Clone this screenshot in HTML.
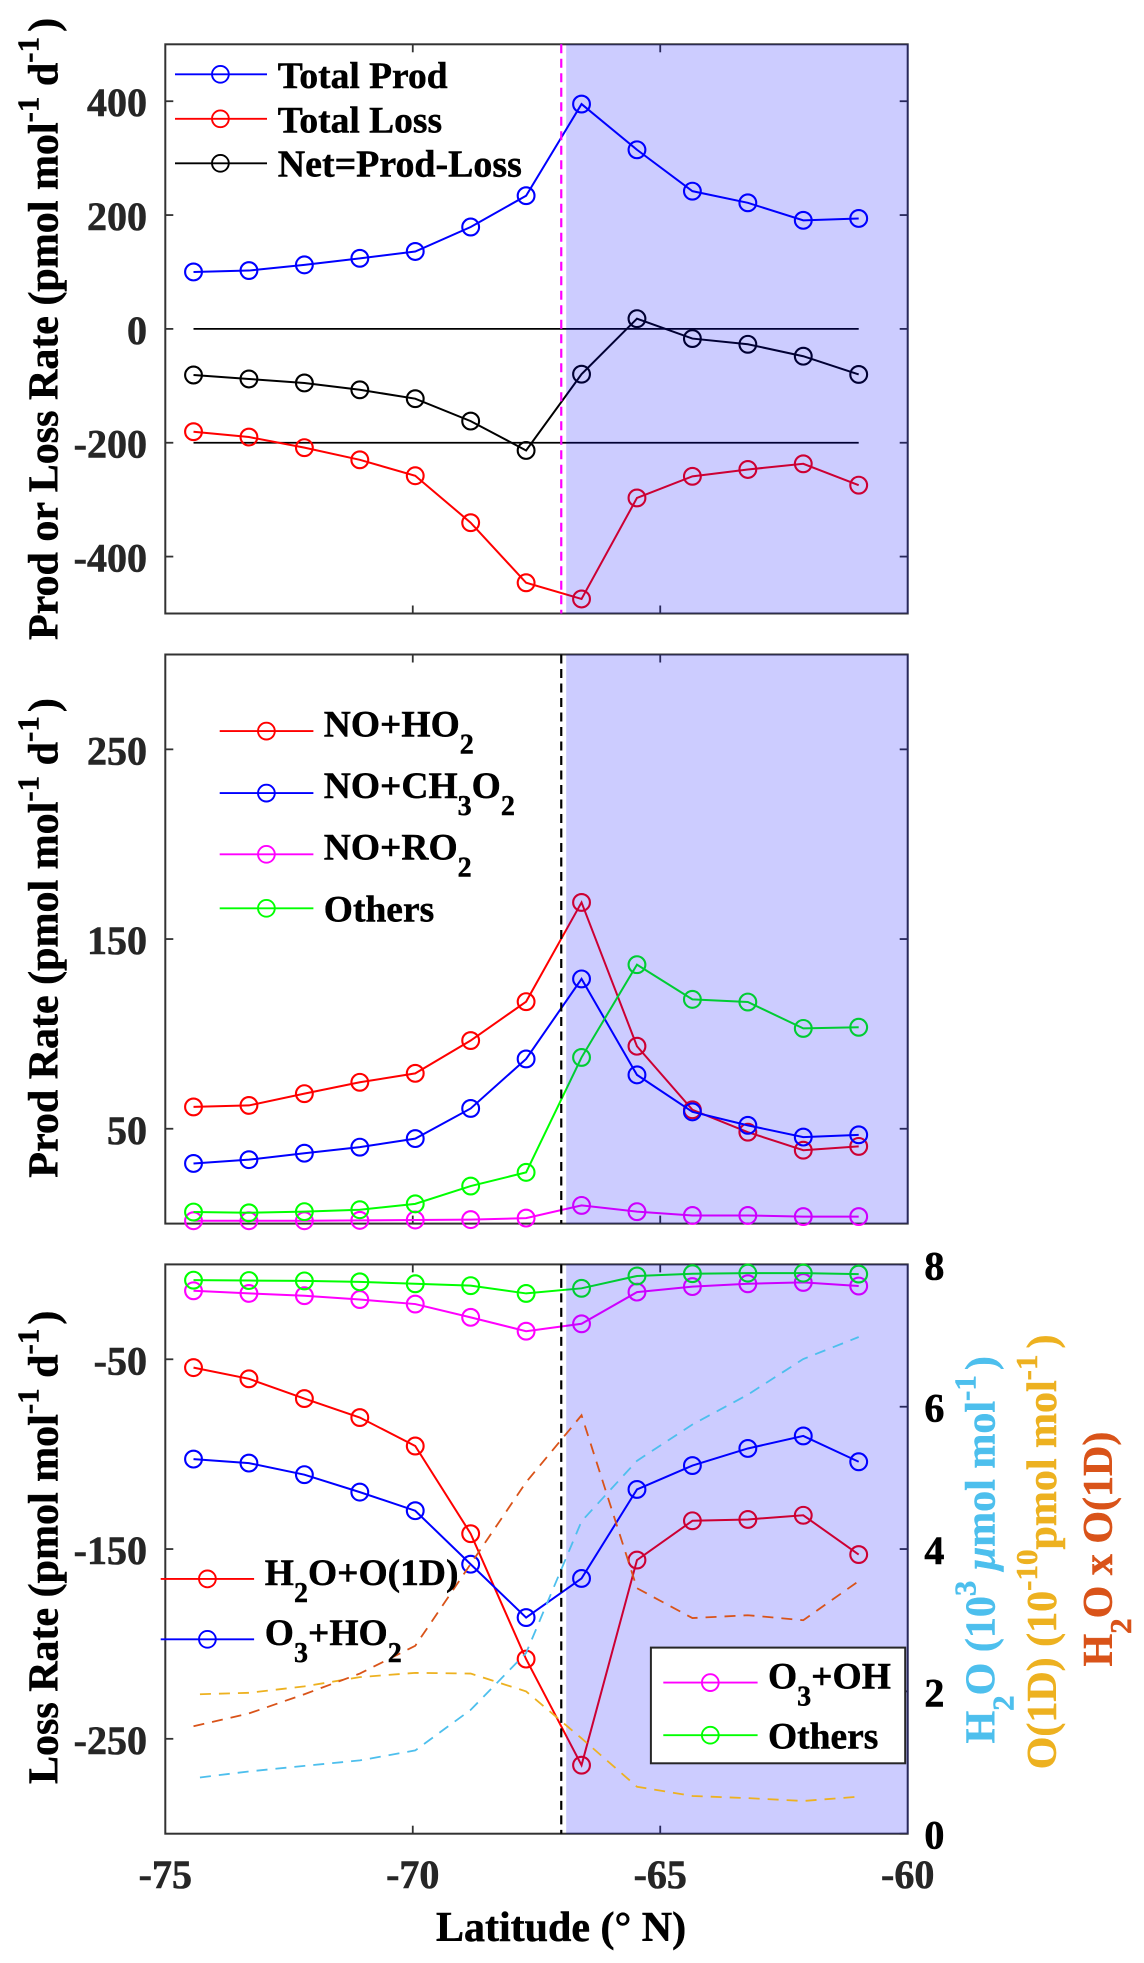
<!DOCTYPE html>
<html lang="en">
<head>
<meta charset="utf-8">
<title>Production and loss rates versus latitude</title>
<style>
html,body{margin:0;padding:0;background:#fff;}
svg{display:block;}
text{font-family:"Liberation Serif","DejaVu Serif",serif;font-weight:bold;}
.lab{font-size:42px;fill:#000;stroke:#000;stroke-width:.5px;}
.leg{font-size:37.5px;fill:#000;stroke:#000;stroke-width:.45px;}
</style>
</head>
<body>
<svg id="figure" xmlns="http://www.w3.org/2000/svg" width="1144" height="1963" viewBox="0 0 1144 1963">
  <rect x="0" y="0" width="1144" height="1963" fill="#fff"/>
  <g id="p1"></g>
  <g id="p2"></g>
  <g id="p3"></g>

  <!-- axis titles -->
  <text class="lab" transform="translate(57.4,640) rotate(-90)">Prod or Loss Rate (pmol mol<tspan dy="-19" font-size="31">-1</tspan><tspan dy="19"> d</tspan><tspan dy="-19" font-size="31">-1</tspan><tspan dy="19" dx="5">)</tspan></text>
  <text class="lab" transform="translate(57.4,1177.7) rotate(-90)">Prod Rate (pmol mol<tspan dy="-19" font-size="31">-1</tspan><tspan dy="19"> d</tspan><tspan dy="-19" font-size="31">-1</tspan><tspan dy="19" dx="4">)</tspan></text>
  <text class="lab" transform="translate(57.4,1784) rotate(-90)">Loss Rate (pmol mol<tspan dy="-19" font-size="31">-1</tspan><tspan dy="19"> d</tspan><tspan dy="-19" font-size="31">-1</tspan><tspan dy="19" dx="4">)</tspan></text>
  <text class="lab" x="436" y="1940.8">Latitude (° N)</text>

  <text class="lab" style="fill:#4DBFED;stroke:#4DBFED" transform="translate(994.5,1743.5) rotate(-90)">H<tspan dy="19" font-size="31">2</tspan><tspan dy="-19">O (10</tspan><tspan dy="-19" font-size="31">3</tspan><tspan dy="19"> </tspan><tspan font-style="italic">μ</tspan>mol mol<tspan dy="-19" font-size="31">-1</tspan><tspan dy="19" dx="5">)</tspan></text>
  <text class="lab" style="fill:#EDB120;stroke:#EDB120" transform="translate(1056.2,1769.3) rotate(-90)">O(1D) (10<tspan dy="-19" font-size="31">-10</tspan><tspan dy="19">pmol mol</tspan><tspan dy="-19" font-size="31">-1</tspan><tspan dy="19" dx="6">)</tspan></text>
  <text class="lab" style="fill:#D95319;stroke:#D95319" transform="translate(1112,1666.5) rotate(-90)">H<tspan dy="19" font-size="31">2</tspan><tspan dy="-19">O x O(1D)</tspan></text>

  <!-- top legend -->
  <g fill="none" stroke-width="1.9">
    <g>
      <line x1="175" x2="267" y1="74.3" y2="74.3" stroke="#00f"/><circle cx="220.4" cy="74.3" r="8.4" stroke="#00f"/>
      <text class="leg" x="277.8" y="87.8">Total Prod</text>
    </g>
    <g>
      <line x1="175" x2="267" y1="118.8" y2="118.8" stroke="#f00"/><circle cx="220.4" cy="118.8" r="8.4" stroke="#f00"/>
      <text class="leg" x="277.8" y="132.7">Total Loss</text>
    </g>
    <g>
      <line x1="175" x2="267" y1="163.3" y2="163.3" stroke="#000"/><circle cx="220.4" cy="163.3" r="8.4" stroke="#000"/>
      <text class="leg" x="277.8" y="176.3" style="font-size:37.9px">Net=Prod-Loss</text>
    </g>
  </g>

  <!-- middle legend -->
  <g fill="none" stroke-width="1.9">
    <g>
      <line x1="219.7" x2="313.4" y1="731.1" y2="731.1" stroke="#f00"/><circle cx="266.4" cy="731.1" r="8.4" stroke="#f00"/>
      <text class="leg" x="323.8" y="736.4">NO+HO<tspan dy="17" font-size="28">2</tspan></text>
    </g>
    <g>
      <line x1="219.7" x2="313.4" y1="793.1" y2="793.1" stroke="#00f"/><circle cx="266.4" cy="793.1" r="8.4" stroke="#00f"/>
      <text class="leg" x="323.8" y="798">NO+CH<tspan dy="17" font-size="28">3</tspan><tspan dy="-17">O</tspan><tspan dy="17" font-size="28">2</tspan></text>
    </g>
    <g>
      <line x1="219.7" x2="313.4" y1="854.3" y2="854.3" stroke="#f0f"/><circle cx="266.4" cy="854.3" r="8.4" stroke="#f0f"/>
      <text class="leg" x="323.8" y="859.3">NO+RO<tspan dy="17" font-size="28">2</tspan></text>
    </g>
    <g>
      <line x1="219.7" x2="313.4" y1="908.3" y2="908.3" stroke="#0f0"/><circle cx="266.4" cy="908.3" r="8.4" stroke="#0f0"/>
      <text class="leg" x="323.8" y="921.7">Others</text>
    </g>
  </g>

  <!-- bottom legends -->
  <g fill="none" stroke-width="1.9">
    <g>
      <line x1="160.7" x2="254.1" y1="1578.9" y2="1578.9" stroke="#f00"/><circle cx="207.4" cy="1578.9" r="8.4" stroke="#f00"/>
      <text class="leg" x="264.8" y="1584.9">H<tspan dy="17" font-size="28">2</tspan><tspan dy="-17">O+O(1D)</tspan></text>
    </g>
    <g>
      <line x1="160.7" x2="254.1" y1="1639.3" y2="1639.3" stroke="#00f"/><circle cx="207.4" cy="1639.3" r="8.4" stroke="#00f"/>
      <text class="leg" x="264.8" y="1644.8">O<tspan dy="17" font-size="28">3</tspan><tspan dy="-17">+HO</tspan><tspan dy="17" font-size="28">2</tspan></text>
    </g>
  </g>
  <g fill="none" stroke-width="1.9">
    <rect x="650.9" y="1647.6" width="254.3" height="115.7" fill="#fff" stroke="#262626" stroke-width="2"/>
    <g>
      <line x1="663.3" x2="757.6" y1="1682.6" y2="1682.6" stroke="#f0f"/><circle cx="710.3" cy="1682.6" r="8.4" stroke="#f0f"/>
      <text class="leg" x="768" y="1688.6">O<tspan dy="17" font-size="28">3</tspan><tspan dy="-17">+OH</tspan></text>
    </g>
    <g>
      <line x1="663.3" x2="757.6" y1="1735.2" y2="1735.2" stroke="#0f0"/><circle cx="710.3" cy="1735.2" r="8.4" stroke="#0f0"/>
      <text class="leg" x="768" y="1748.5">Others</text>
    </g>
  </g>
</svg>

<script>
// ---- data ----
var lats = [-74.43,-73.31,-72.19,-71.07,-69.95,-68.83,-67.71,-66.59,-65.47,-64.35,-63.23,-62.11,-60.99];
var dashLats = [-74.3,-73.31,-72.19,-71.07,-69.95,-68.83,-67.71,-66.59,-65.47,-64.35,-63.23,-62.11,-60.99];

var totalProd = [100,102.5,112.5,124,136,179,234,395,314.7,242,221.5,190.7,194];
var totalLoss = [-180.6,-190,-208.6,-230,-258,-340.5,-446,-474.5,-297,-259,-247,-237,-274.5];
var netRate = [-81,-88,-95,-107,-122.6,-162,-213.6,-79.6,18,-17,-27,-48,-80];
var zeroRef = [0,0,0,0,0,0,0,0,0,0,0,0,0];
var minus200Ref = [-200,-200,-200,-200,-200,-200,-200,-200,-200,-200,-200,-200,-200];

var prodNoHo2 = [61.5,62.3,68.5,74.5,79.2,96.5,117,169.3,93.5,60,48.2,38.7,40.7];
var prodNoCh3o2 = [31.7,33.7,37.1,40.3,44.8,60.7,86.8,129,78.4,58.9,51.8,45.6,46.8];
var prodNoRo2 = [1.5,1.5,1.5,1.7,1.9,2.1,2.9,9.6,6.3,4.3,4.3,3.7,3.7];
var prodOthers = [6.1,5.7,6.3,7.3,10.4,19.8,27,87.6,136.5,118.2,116.8,102.9,103.5];

var lossH2oO1d = [-54.4,-60.3,-70.7,-80.7,-95.7,-141.9,-208,-263.9,-155.8,-135.1,-134.4,-132.2,-152.9];
var lossO3Ho2 = [-102.6,-104.7,-110.8,-120,-129.8,-158,-186.1,-165.5,-118.6,-106,-97,-90.4,-104];
var lossO3Oh = [-13.9,-15.3,-16.5,-18.5,-20.9,-27.9,-35.2,-31.3,-14.6,-11.7,-10.2,-9.5,-11.4];
var lossOthers = [-8.3,-8.5,-8.7,-9.2,-10.2,-11.2,-15.3,-12.6,-6.1,-4.9,-4.6,-4.6,-5.1];

var h2oValues = [0.79,0.875,0.953,1.03,1.17,1.74,2.54,4.39,5.24,5.75,6.17,6.67,6.98];
var o1dValues = [1.96,1.98,2.07,2.20,2.26,2.25,2.0,1.34,0.66,0.53,0.50,0.46,0.52];
var h2oO1dValues = [1.51,1.69,1.96,2.25,2.64,3.79,4.94,5.88,3.45,3.03,3.07,3.0,3.55];

var xTicks = [-75,-70,-65,-60];
var xTickLabels = ['-75','-70','-65','-60'];
var topYTicks = [400,200,0,-200,-400];
var topYTickLabels = ['400','200','0','-200','-400'];
var midYTicks = [250,150,50];
var midYTickLabels = ['250','150','50'];
var lossYTicks = [-50,-150,-250];
var lossYTickLabels = ['-50','-150','-250'];
var rightYTicks = [8,6,4,2,0];
var rightYTickLabels = ['8','6','4','2','0'];

var nightEdgeLat = -67;
var shadeStartLat = -66.9;

// ---- axis functions ----
var AX_LEFT = 165.3, AX_RIGHT = 907.7;
function xScale(lat){ return AX_LEFT + (lat + 75) * (AX_RIGHT - AX_LEFT) / 15; }
function makeY(vMin, vMax, top, bottom){
  return function(v){ return bottom - (v - vMin) * (bottom - top) / (vMax - vMin); };
}
var y1 = makeY(-500, 500, 44.3, 613.5);
var y2 = makeY(0, 300, 654.5, 1223.6);
var y3 = makeY(-300, 0, 1264.4, 1833.7);
var y3r = makeY(0, 8, 1264.4, 1833.7);

var NS = 'http://www.w3.org/2000/svg';
var AXIS = '#333333';

function svgEl(tag, attrs){
  var e = document.createElementNS(NS, tag);
  for (var k in attrs) e.setAttribute(k, attrs[k]);
  return e;
}

function drawLine(g, xs, ys, yFn, color, name, width, dash){
  var pts = [];
  for (var i = 0; i < xs.length; i++) pts.push(xScale(xs[i]).toFixed(2) + ',' + yFn(ys[i]).toFixed(2));
  var pl = svgEl('polyline', {points: pts.join(' '), fill: 'none', stroke: color, 'stroke-width': width});
  
  
  if (dash) pl.setAttribute('stroke-dasharray', dash);
  g.appendChild(pl);
}

function drawSeries(g, ys, yFn, color, name){
  drawLine(g, lats, ys, yFn, color, name + '-line', 2);
  for (var i = 0; i < lats.length; i++){
    var c = svgEl('circle', {cx: xScale(lats[i]).toFixed(2), cy: yFn(ys[i]).toFixed(2), r: 8.4, fill: 'none', stroke: color, 'stroke-width': 2.1});
    
    
    g.appendChild(c);
  }
}

function drawFrame(g, top, bottom){
  var box = svgEl('rect', {x: AX_LEFT, y: top, width: AX_RIGHT - AX_LEFT, height: bottom - top, fill: 'none', stroke: AXIS, 'stroke-width': 2});
  
  
  g.appendChild(box);
  for (var i = 1; i < xTicks.length - 1; i++){
    var x = xScale(xTicks[i]);
    var t1 = svgEl('line', {x1: x, x2: x, y1: bottom, y2: bottom - 8, stroke: AXIS, 'stroke-width': 1.8});
    
    
    g.appendChild(t1);
    var t2 = svgEl('line', {x1: x, x2: x, y1: top, y2: top + 8, stroke: AXIS, 'stroke-width': 1.8});
    
    
    g.appendChild(t2);
  }
}

function drawYTicks(g, ticks, labels, yFn, side, mirror){
  for (var i = 0; i < ticks.length; i++){
    var y = yFn(ticks[i]);
    var edge = side === 'left' ? AX_LEFT : AX_RIGHT;
    var dir = side === 'left' ? 8 : -8;
    var t = svgEl('line', {x1: edge, x2: edge + dir, y1: y, y2: y, stroke: AXIS, 'stroke-width': 1.8});
    
    
    g.appendChild(t);
    if (mirror){
      var m = svgEl('line', {x1: AX_RIGHT, x2: AX_RIGHT - 8, y1: y, y2: y, stroke: AXIS, 'stroke-width': 1.8});
      
      
      g.appendChild(m);
    }
    var tickColor = side === 'left' ? '#262626' : '#000';
    var lb = svgEl('text', {y: y + 15, 'font-size': 40, fill: tickColor, stroke: tickColor, 'stroke-width': 0.6});
    
    
    if (side === 'left'){
      lb.setAttribute('x', 147);
      lb.setAttribute('text-anchor', 'end');
    } else {
      lb.setAttribute('x', 924.4);
    }
    lb.textContent = labels[i];
    g.appendChild(lb);
  }
}

function drawVLine(g, top, bottom, color){
  var x = xScale(nightEdgeLat);
  var v = svgEl('line', {x1: x, x2: x, y1: top, y2: bottom, stroke: color, 'stroke-width': 2.2, 'stroke-dasharray': '9 5.5'});
  
  
  g.appendChild(v);
}

function drawShade(g, top, bottom){
  var x = xScale(shadeStartLat);
  var s = svgEl('rect', {x: x, y: top, width: AX_RIGHT + 1 - x, height: bottom - top, fill: 'rgb(0,0,255)', 'fill-opacity': 0.2});
  
  
  g.appendChild(s);
}

// ---- panel 1 ----
var g1 = document.getElementById('p1');
drawFrame(g1, 44.3, 613.5);
drawYTicks(g1, topYTicks, topYTickLabels, y1, 'left', true);
drawLine(g1, lats, zeroRef, y1, '#000', 'zero-reference-line', 1.8);
drawLine(g1, lats, minus200Ref, y1, '#000', 'minus-200-reference-line', 1.8);
drawSeries(g1, totalProd, y1, '#00f', 'total-prod');
drawSeries(g1, totalLoss, y1, '#f00', 'total-loss');
drawSeries(g1, netRate, y1, '#000', 'net-rate');
drawVLine(g1, 44.3, 613.5, '#f0f');
drawShade(g1, 44.3, 613.5);

// ---- panel 2 ----
var g2 = document.getElementById('p2');
drawFrame(g2, 654.5, 1223.6);
drawYTicks(g2, midYTicks, midYTickLabels, y2, 'left', true);
drawSeries(g2, prodNoHo2, y2, '#f00', 'no-ho2');
drawSeries(g2, prodNoCh3o2, y2, '#00f', 'no-ch3o2');
drawSeries(g2, prodNoRo2, y2, '#f0f', 'no-ro2');
drawSeries(g2, prodOthers, y2, '#0f0', 'others-prod');
drawVLine(g2, 654.5, 1223.6, '#000');
drawShade(g2, 654.5, 1223.6);

// ---- panel 3 ----
var g3 = document.getElementById('p3');
drawFrame(g3, 1264.4, 1833.7);
drawYTicks(g3, lossYTicks, lossYTickLabels, y3, 'left', false);
drawYTicks(g3, rightYTicks, rightYTickLabels, y3r, 'right', false);
drawSeries(g3, lossH2oO1d, y3, '#f00', 'h2o-o1d');
drawSeries(g3, lossO3Ho2, y3, '#00f', 'o3-ho2');
drawSeries(g3, lossO3Oh, y3, '#f0f', 'o3-oh');
drawSeries(g3, lossOthers, y3, '#0f0', 'others-loss');
drawVLine(g3, 1264.4, 1833.7, '#000');
drawShade(g3, 1264.4, 1833.7);
drawLine(g3, dashLats, h2oValues, y3r, '#4DBFED', 'h2o-dashed-line', 1.8, '11 8');
drawLine(g3, dashLats, o1dValues, y3r, '#EDB120', 'o1d-dashed-line', 1.8, '11 8');
drawLine(g3, lats, h2oO1dValues, y3r, '#D95319', 'h2o-times-o1d-dashed-line', 1.8, '11 8');

// x tick labels
for (var i = 0; i < xTicks.length; i++){
  var xl = svgEl('text', {x: xScale(xTicks[i]), y: 1887.8, 'font-size': 40, fill: '#262626', stroke: '#262626', 'stroke-width': 0.6, 'text-anchor': 'middle'});
  
  
  xl.textContent = xTickLabels[i];
  g3.appendChild(xl);
}
</script>
</body>
</html>
